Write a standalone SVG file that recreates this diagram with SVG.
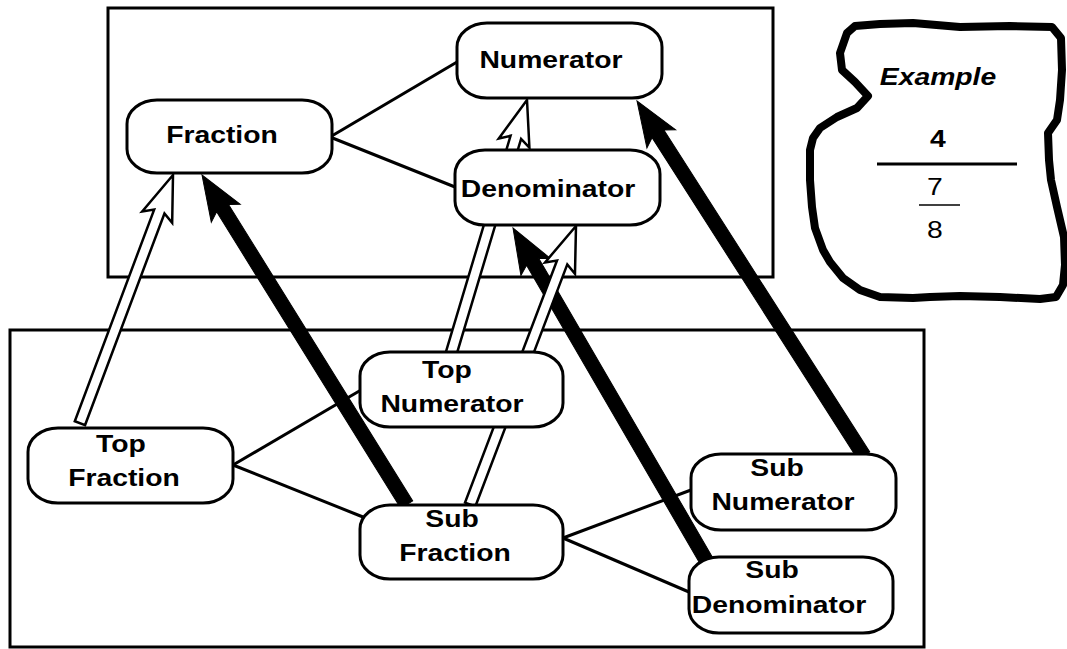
<svg xmlns="http://www.w3.org/2000/svg" width="1067" height="649" viewBox="0 0 1067 649">
  <style>
    .frame { fill: none; stroke: #000; stroke-width: 3; }
    .node rect { fill: #fff; stroke: #000; stroke-width: 3; }
    .lbl { font-family: "Liberation Sans", Arial, sans-serif; font-weight: bold; font-size: 24px; text-anchor: middle; fill: #000;
           transform-box: fill-box; transform-origin: center; transform: scaleX(1.18); }
    .plain { font-weight: normal; }
    .ital { font-style: italic; }
    .link { stroke: #000; stroke-width: 3; fill: none; }
    .solid { fill: #000; stroke: #000; stroke-width: 1; stroke-linejoin: miter; }
    .hollow { fill: #fff; stroke: #000; stroke-width: 2.5; stroke-linejoin: miter; }
  </style>

  <rect width="1067" height="649" fill="#fff"/>

  <!-- level frames -->
  <rect class="frame" x="108" y="8" width="665" height="269"/>
  <rect class="frame" x="10" y="330" width="914" height="317"/>

  <g id="connectors">
    <!-- solid "is instance of" arrows, tip at origin, shaft along +x -->
    <path class="solid" transform="translate(202,175) rotate(58.15)" d="M0,0 L45,17 L39,7 L388,7 L388,-7 L39,-7 L45,-17 Z"/>
    <path class="solid" transform="translate(637,101) rotate(57.4)" d="M0,0 L45,17 L39,7 L421,7 L421,-7 L39,-7 L45,-17 Z"/>
    <path class="solid" transform="translate(513,228) rotate(59.83)" d="M0,0 L45,17 L39,7 L384,7 L384,-7 L39,-7 L45,-17 Z"/>
    <!-- hollow arrows -->
    <path class="hollow" transform="translate(173,175) rotate(110.56)" d="M0,0 L45,16 L39,5.5 L265,5.5 L265,-5.5 L39,-5.5 L45,-16 Z"/>
    <path class="hollow" transform="translate(527,100) rotate(106.66)" d="M0,0 L45,16 L39,5.5 L265,5.5 L265,-5.5 L39,-5.5 L45,-16 Z"/>
    <path class="hollow" transform="translate(576,226) rotate(110.8)" d="M0,0 L45,16 L39,5.5 L298,5.5 L298,-5.5 L39,-5.5 L45,-16 Z"/>
    <!-- part-of links -->
    <line class="link" x1="330" y1="137" x2="457" y2="62"/>
    <line class="link" x1="330" y1="137" x2="455" y2="187"/>
    <line class="link" x1="233" y1="465" x2="361" y2="390"/>
    <line class="link" x1="233" y1="465" x2="363" y2="517"/>
    <line class="link" x1="563" y1="538" x2="691" y2="490"/>
    <line class="link" x1="563" y1="538" x2="689" y2="592"/>
  </g>

  <g id="fraction" class="node">
    <rect x="127" y="100" width="205" height="73" rx="30" ry="24"/>
    <text class="lbl" x="222" y="143">Fraction</text>
  </g>
  <g id="numerator" class="node">
    <rect x="457" y="23" width="205" height="75" rx="30" ry="24"/>
    <text class="lbl" x="551" y="68">Numerator</text>
  </g>
  <g id="denominator" class="node">
    <rect x="455" y="150" width="205" height="75" rx="30" ry="24"/>
    <text class="lbl" x="548" y="197">Denominator</text>
  </g>
  <g id="top-fraction" class="node">
    <rect x="28" y="428" width="205" height="75" rx="30" ry="24"/>
    <text class="lbl" x="121" y="452">Top</text>
    <text class="lbl" x="124" y="486">Fraction</text>
  </g>
  <g id="top-numerator" class="node">
    <rect x="360" y="352" width="203" height="75" rx="30" ry="24"/>
    <text class="lbl" x="447" y="378">Top</text>
    <text class="lbl" x="452" y="412">Numerator</text>
  </g>
  <g id="sub-fraction" class="node">
    <rect x="360" y="505" width="203" height="74" rx="30" ry="24"/>
    <text class="lbl" x="452" y="527">Sub</text>
    <text class="lbl" x="455" y="561">Fraction</text>
  </g>
  <g id="sub-numerator" class="node">
    <rect x="691" y="454" width="205" height="76" rx="30" ry="24"/>
    <text class="lbl" x="777" y="476">Sub</text>
    <text class="lbl" x="783" y="510">Numerator</text>
  </g>
  <g id="sub-denominator" class="node">
    <rect x="689" y="557" width="204" height="76" rx="30" ry="24"/>
    <text class="lbl" x="772" y="578">Sub</text>
    <text class="lbl" x="779" y="613">Denominator</text>
  </g>

  <!-- example callout -->
  <g id="example">
    <path d="M855,26 L880,24 L913,23 L960,27 L1010,26 L1052,27 L1061,38 L1062,70 L1060,100 L1057,120 L1048,133 L1049,160 L1051,180 L1057,207 L1064,237 L1065,265 L1063,285 L1056,297 L1040,299 L1000,297 L960,296 L930,297 L913,298 L880,297 L860,290 L843,278 L830,262 L823,250 L815,228 L812,207 L810,180 L810,150 L813,138 L820,128 L837,117 L857,108 L868,96 L855,82 L842,70 L840,53 L847,33 Z"
          fill="#fff" stroke="#000" stroke-width="8" stroke-linejoin="round"/>
    <text class="lbl ital" x="938" y="85">Example</text>
    <text class="lbl" x="938" y="147">4</text>
    <line x1="877" y1="164" x2="1017" y2="164" stroke="#000" stroke-width="3"/>
    <text class="lbl plain" x="935" y="195">7</text>
    <line x1="919" y1="205" x2="960" y2="205" stroke="#000" stroke-width="1.5"/>
    <text class="lbl plain" x="935" y="238">8</text>
  </g>
</svg>
